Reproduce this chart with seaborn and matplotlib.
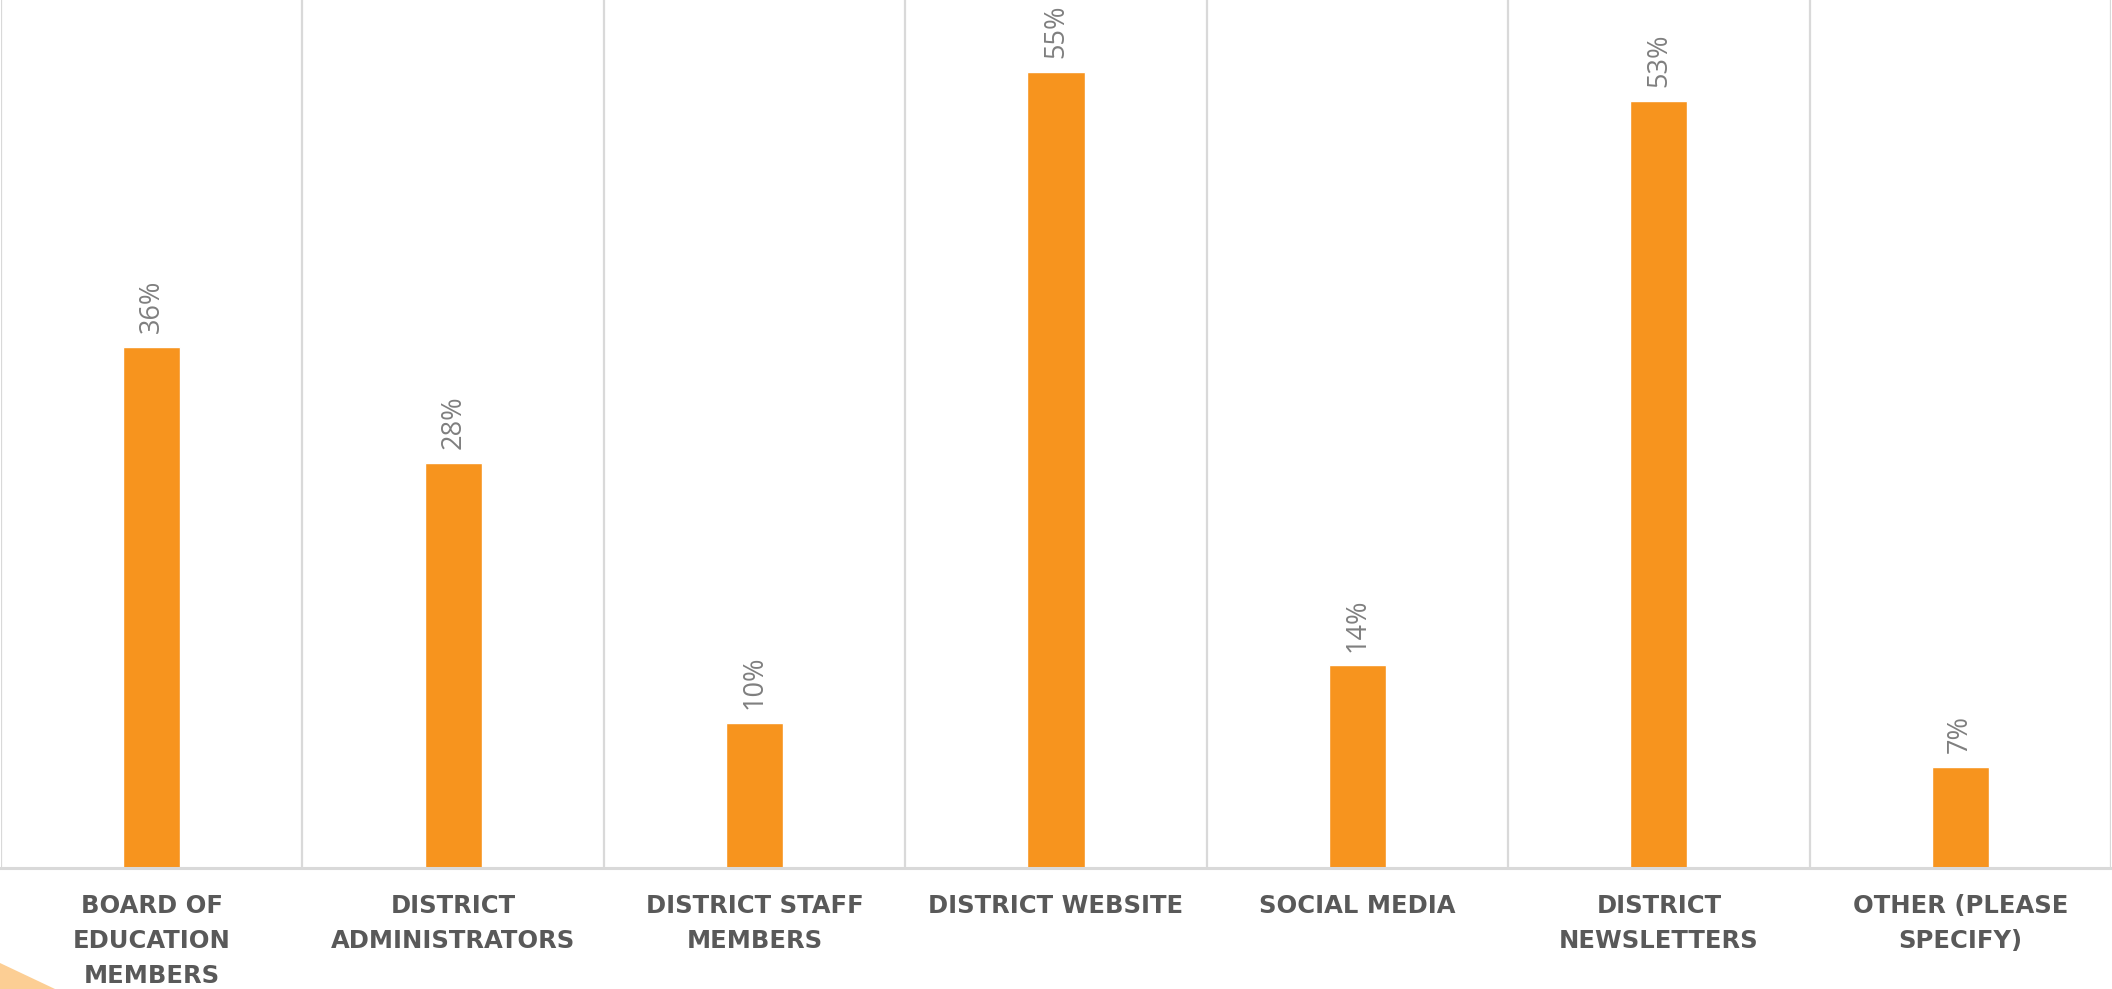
import matplotlib
matplotlib.use("Agg")
import matplotlib.pyplot as plt
import pandas as pd
import seaborn as sns
from matplotlib.patches import Polygon

CATEGORIES = [
    "BOARD OF\nEDUCATION\nMEMBERS",
    "DISTRICT\nADMINISTRATORS",
    "DISTRICT STAFF\nMEMBERS",
    "DISTRICT WEBSITE",
    "SOCIAL MEDIA",
    "DISTRICT\nNEWSLETTERS",
    "OTHER (PLEASE\nSPECIFY)",
]
VALUES = [36, 28, 10, 55, 14, 53, 7]

BAR_COLOR = "#F7941E"
GRID_COLOR = "#D9D9D9"

sns.set_theme(style="white")
plt.rcParams["font.family"] = ["Open Sans", "DejaVu Sans"]

df = pd.DataFrame({"source": CATEGORIES, "pct": VALUES})

W, H = 2112, 989
fig = plt.figure(figsize=(W / 100, H / 100), dpi=100)
ax = fig.add_axes([0.0005, (H - 868) / H, 0.999, 868 / H])

sns.barplot(data=df, x="source", y="pct", color=BAR_COLOR, width=0.19,
            saturation=1, ax=ax)

ax.set_xlim(-0.5, len(CATEGORIES) - 0.5)
ax.set_ylim(0, 60)
ax.set_xlabel("")
ax.set_ylabel("")
ax.set_yticks([])

# vertical separators between categories
for b in range(len(CATEGORIES) + 1):
    ax.axvline(b - 0.5, color=GRID_COLOR, lw=1.6, zorder=0)

for s in ["top", "right", "left"]:
    ax.spines[s].set_visible(False)
ax.spines["bottom"].set_color(GRID_COLOR)
ax.spines["bottom"].set_linewidth(2.2)

# wide bold face to mimic the letter-spaced caps of the original
ax.tick_params(axis="x", length=0, pad=19)
for lab in ax.get_xticklabels():
    lab.set_fontsize(17.5)
    lab.set_fontweight("bold")
    lab.set_family("DejaVu Sans")
    lab.set_color("#595959")
    lab.set_linespacing(1.58)
    lab.set_va("top")

for i, v in enumerate(VALUES):
    ax.annotate(f"{v}%", (i, v), xytext=(0, 10), textcoords="offset points",
                rotation=90, ha="center", va="bottom", fontsize=19.5,
                color="#7F7F7F")

# decorative corner swoosh
fig.patches.append(Polygon([(0, 0), (0, 26 / H), (55 / W, 0)], closed=True,
                           transform=fig.transFigure, facecolor="#FCC27A",
                           edgecolor="none", alpha=0.8))

fig.savefig("out.png", dpi=100)
